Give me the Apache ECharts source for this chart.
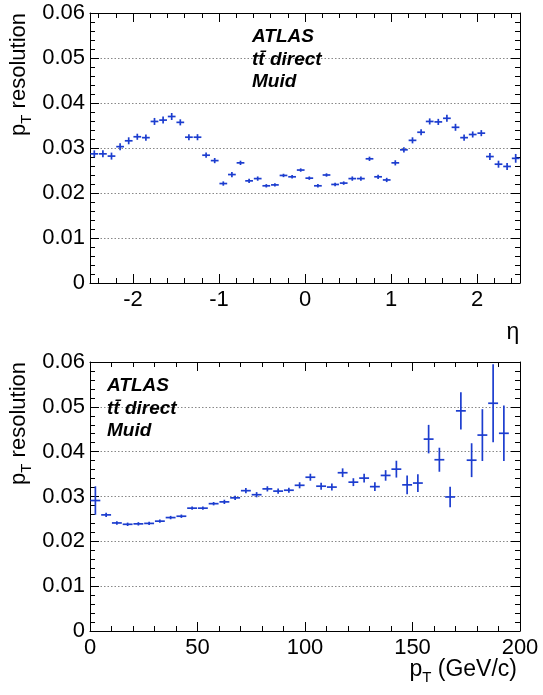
<!DOCTYPE html>
<html><head><meta charset="utf-8">
<script src="https://cdn.jsdelivr.net/npm/echarts@6/dist/echarts.min.js"></script>
<style>html,body{margin:0;padding:0;background:#fff}#c{width:543px;height:695px}</style>
</head><body><div id="c"></div>
<script>
// ---------- data ----------
const etaCenters = [-2.45,-2.35,-2.25,-2.15,-2.05,-1.95,-1.85,-1.75,-1.65,-1.55,
  -1.45,-1.35,-1.25,-1.15,-1.05,-0.95,-0.85,-0.75,-0.65,-0.55,
  -0.45,-0.35,-0.25,-0.15,-0.05,0.05,0.15,0.25,0.35,0.45,
  0.55,0.65,0.75,0.85,0.95,1.05,1.15,1.25,1.35,1.45,
  1.55,1.65,1.75,1.85,1.95,2.05,2.15,2.25,2.35,2.45];
const etaRes = [0.0287,0.0287,0.0282,0.0303,0.0316,0.0325,0.0323,0.0359,0.0362,0.0370,
  0.0357,0.0324,0.0324,0.0284,0.0272,0.0221,0.0241,0.0267,0.0227,0.0232,
  0.0216,0.0218,0.0239,0.0236,0.0251,0.0233,0.0216,0.0240,0.0219,0.0222,
  0.0232,0.0232,0.0276,0.0236,0.0229,0.0267,0.0296,0.0317,0.0335,0.0359,
  0.0358,0.0366,0.0346,0.0323,0.0330,0.0333,0.0281,0.0264,0.0259,0.0277];
const etaErr = [0.0006,0.0006,0.0006,0.0006,0.0006,0.0005,0.0005,0.0006,0.0006,0.0006,
  0.0005,0.0005,0.0005,0.0004,0.0004,0.0003,0.0004,0.0003,0.0003,0.0003,
  0.0002,0.0002,0.0002,0.0002,0.0002,0.0002,0.0002,0.0002,0.0002,0.0002,
  0.0003,0.0003,0.0003,0.0003,0.0003,0.0004,0.0004,0.0005,0.0005,0.0005,
  0.0005,0.0006,0.0006,0.0005,0.0005,0.0005,0.0006,0.0006,0.0006,0.0008];
const etaHalfBin = 0.045;

const ptCenters = [2.5,7.5,12.5,17.5,22.5,27.5,32.5,37.5,42.5,47.5,
  52.5,57.5,62.5,67.5,72.5,77.5,82.5,87.5,92.5,97.5,
  102.5,107.5,112.5,117.5,122.5,127.5,132.5,137.5,142.5,147.5,
  152.5,157.5,162.5,167.5,172.5,177.5,182.5,187.5,192.5];
const ptRes = [0.0291,0.0259,0.0241,0.0238,0.0239,0.0240,0.0245,0.0253,0.0256,0.0274,
  0.0274,0.0284,0.0288,0.0297,0.0313,0.0304,0.0317,0.0312,0.0314,0.0325,
  0.0343,0.0323,0.0321,0.0353,0.0332,0.0341,0.0322,0.0347,0.0361,0.0326,
  0.0330,0.0428,0.0382,0.0299,0.0491,0.0381,0.0437,0.0508,0.0441];
const ptErr = [0.0030,0.0003,0.0002,0.0002,0.0002,0.0002,0.0002,0.0002,0.0002,0.0002,
  0.0002,0.0002,0.0003,0.0003,0.0004,0.0004,0.0004,0.0004,0.0004,0.0005,
  0.0006,0.0006,0.0006,0.0008,0.0007,0.0008,0.0008,0.0010,0.0017,0.0019,
  0.0018,0.0030,0.0025,0.0021,0.0040,0.0036,0.0056,0.0085,0.0060];
const ptHalfBin = 2.3;

const etaMajorTicks = [-2,-1,0,1,2];
const etaMinorTicks = [-2.4,-2.2,-1.8,-1.6,-1.4,-1.2,-0.8,-0.6,-0.4,-0.2,0.2,0.4,0.6,0.8,1.2,1.4,1.6,1.8,2.2,2.4];

// ---------- style ----------
const FONT = '"Liberation Sans", Arial, Helvetica, sans-serif';
const BLUE = '#1c3dcf';
const LABEL = {fontSize: 22, color: '#000', fontFamily: FONT};

function errData(xs, ys, xe, ye) { return xs.map((x, i) => [x, ys[i], xe, ye[i]]); }
function renderErr(params, api) {
  const x = api.value(0), y = api.value(1), xe = api.value(2), ye = api.value(3);
  const a = api.coord([x - xe, y]), b = api.coord([x + xe, y]);
  const c = api.coord([x, y - ye]), d = api.coord([x, y + ye]);
  const st = {stroke: BLUE, lineWidth: 1.7};
  return {type: 'group', children: [
    {type: 'line', shape: {x1: a[0], y1: a[1], x2: b[0], y2: b[1]}, style: st},
    {type: 'line', shape: {x1: c[0], y1: c[1] + 0.8, x2: d[0], y2: d[1] - 0.8}, style: st}
  ]};
}
const line = {show: true, onZero: false, lineStyle: {color: '#000', width: 1}};
const noLine = {show: false, onZero: false};
const tickMaj = {show: true, inside: true, length: 9, lineStyle: {color: '#000', width: 1}};
const tickMin = {show: true, inside: true, length: 5, lineStyle: {color: '#000', width: 1}};
const minor = {show: true, splitNumber: 5, length: 5, lineStyle: {color: '#000', width: 1}};

function yAx(grid, pos, labels) {
  return {type: 'value', gridIndex: grid, position: pos, min: 0, max: 0.06, interval: 0.01,
    axisLine: line, axisTick: tickMaj, minorTick: minor,
    axisLabel: labels ? Object.assign({show: true, margin: 5,
      formatter: v => v === 0 ? '0' : v.toFixed(2)}, LABEL) : {show: false},
    splitLine: labels ? {show: true, lineStyle: {type: [1.5, 2], color: '#888', width: 1}} : {show: false},
    minorSplitLine: {show: false}};
}

const option = {
  animation: false,
  backgroundColor: '#fff',
  grid: [
    {left: 90, top: 13, width: 430, height: 270},
    {left: 90, top: 362, width: 430, height: 269}
  ],
  xAxis: [
    {type: 'value', gridIndex: 0, position: 'bottom', min: -2.5, max: 2.5,
      axisLine: line, axisTick: Object.assign({customValues: etaMajorTicks}, tickMaj),
      axisLabel: Object.assign({customValues: etaMajorTicks, margin: 6}, LABEL), splitLine: {show: false}},
    {type: 'value', gridIndex: 0, position: 'bottom', min: -2.5, max: 2.5,
      axisLine: noLine, axisTick: Object.assign({customValues: etaMinorTicks}, tickMin),
      axisLabel: {show: false}, splitLine: {show: false}},
    {type: 'value', gridIndex: 0, position: 'top', min: -2.5, max: 2.5,
      axisLine: line, axisTick: Object.assign({customValues: etaMajorTicks}, tickMaj),
      axisLabel: {show: false}, splitLine: {show: false}},
    {type: 'value', gridIndex: 0, position: 'top', min: -2.5, max: 2.5,
      axisLine: noLine, axisTick: Object.assign({customValues: etaMinorTicks}, tickMin),
      axisLabel: {show: false}, splitLine: {show: false}},
    {type: 'value', gridIndex: 1, position: 'bottom', min: 0, max: 200, interval: 50,
      axisLine: line, axisTick: tickMaj, minorTick: minor,
      axisLabel: Object.assign({margin: 6}, LABEL), splitLine: {show: false}},
    {type: 'value', gridIndex: 1, position: 'top', min: 0, max: 200, interval: 50,
      axisLine: line, axisTick: tickMaj, minorTick: minor,
      axisLabel: {show: false}, splitLine: {show: false}}
  ],
  yAxis: [yAx(0, 'left', true), yAx(0, 'right', false), yAx(1, 'left', true), yAx(1, 'right', false)],
  series: [
    {type: 'custom', xAxisIndex: 0, yAxisIndex: 0, renderItem: renderErr,
      data: errData(etaCenters, etaRes, etaHalfBin, etaErr), z: 5},
    {type: 'custom', xAxisIndex: 4, yAxisIndex: 2, renderItem: renderErr,
      data: errData(ptCenters, ptRes, ptHalfBin, ptErr), z: 5}
  ],
  graphic: []
};

function yTitle(y) {
  return {type: 'text', x: 19, y: y, rotation: Math.PI / 2, z: 10,
    style: {text: '{a|p}{b|T}{a| resolution}', align: 'right', textAlign: 'right',
      verticalAlign: 'middle', textVerticalAlign: 'middle', fill: '#000',
      rich: {a: {fontSize: 22, fontFamily: FONT, lineHeight: 30, fill: '#000'},
             b: {fontSize: 15, fontFamily: FONT, lineHeight: 14, verticalAlign: 'bottom', fill: '#000'}}}};
}
function annot(x, y) {
  const f = 'italic bold 19px ' + FONT;
  return [
    {type: 'text', x: x, y: y, z: 10, style: {text: 'ATLAS', font: f, fill: '#000', verticalAlign: 'middle', textVerticalAlign: 'middle'}},
    {type: 'text', x: x, y: y + 23, z: 10, style: {text: 'tt\u0304 direct', font: f, fill: '#000', verticalAlign: 'middle', textVerticalAlign: 'middle'}},
    {type: 'text', x: x, y: y + 45, z: 10, style: {text: 'Muid', font: f, fill: '#000', verticalAlign: 'middle', textVerticalAlign: 'middle'}}
  ];
}
option.graphic = [
  yTitle(13), yTitle(362),
  {type: 'text', x: 513, y: 333, z: 10, style: {text: '\u03b7', font: '23px ' + FONT, fill: '#000',
    align: 'center', textAlign: 'center', verticalAlign: 'middle', textVerticalAlign: 'middle'}},
  {type: 'text', x: 517, y: 670, z: 10, style: {text: '{a|p}{b|T}{a| (GeV/c)}', align: 'right', textAlign: 'right',
    verticalAlign: 'middle', textVerticalAlign: 'middle', fill: '#000',
    rich: {a: {fontSize: 23, fontFamily: FONT, lineHeight: 30, fill: '#000'},
           b: {fontSize: 15, fontFamily: FONT, lineHeight: 14, verticalAlign: 'bottom', fill: '#000'}}}}
].concat(annot(252, 37), annot(107, 386));

const chart = echarts.init(document.getElementById('c'), null, {renderer: 'canvas'});
chart.setOption(option);
</script>
</body></html>
